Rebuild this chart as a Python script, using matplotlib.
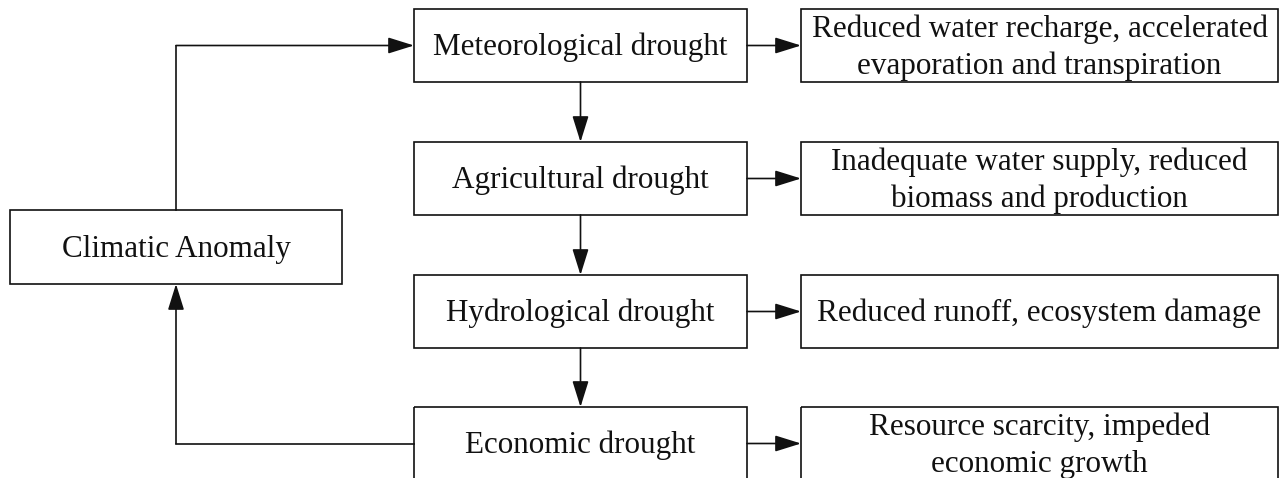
import matplotlib
matplotlib.use("Agg")
import matplotlib.pyplot as plt
from matplotlib.patches import Rectangle

plt.rcParams['font.family'] = ['Liberation Serif', 'DejaVu Serif']

source = "Climatic Anomaly"
stages = ["Meteorological drought", "Agricultural drought",
          "Hydrological drought", "Economic drought"]
impacts = ["Reduced water recharge, accelerated\nevaporation and transpiration",
           "Inadequate water supply, reduced\nbiomass and production",
           "Reduced runoff, ecosystem damage",
           "Resource scarcity, impeded\neconomic growth"]

# layout in pixels (y grows downwards)
row_top = [9, 142, 275, 407]
box_h = 73
mid_x0, mid_x1 = 414, 747
right_x0, right_x1 = 801, 1278
src_box = (10, 210, 342, 284)
loop_x = 176
ink = '#111111'
fs = 22.4

fig = plt.figure(figsize=(12.79, 4.78), dpi=100)
ax = fig.add_axes([0, 0, 1, 1])
ax.set_xlim(0, 1279)
ax.set_ylim(478, 0)
ax.axis('off')


def box(x0, y0, x1, y1, text):
    ax.add_patch(Rectangle((x0, y0), x1 - x0, y1 - y0, fill=False,
                           edgecolor=ink, lw=1.2))
    ax.text((x0 + x1) / 2, (y0 + y1) / 2 + 2, text, ha='center', va='center',
            fontsize=fs, color=ink, linespacing=1.35)


def arrow(x0, y0, x1, y1):
    ax.annotate('', xy=(x1, y1), xytext=(x0, y0),
                arrowprops=dict(arrowstyle='-|>,head_length=16,head_width=5',
                                mutation_scale=1, lw=1.2, color=ink,
                                shrinkA=0, shrinkB=0))


box(*src_box, source)
for i, (s, t) in enumerate(zip(stages, impacts)):
    y0 = row_top[i]
    box(mid_x0, y0, mid_x1, y0 + box_h, s)
    box(right_x0, y0, right_x1, y0 + box_h, t)
    yc = y0 + box_h / 2
    arrow(mid_x1, yc, right_x0, yc)
    if i < len(stages) - 1:
        xc = (mid_x0 + mid_x1) / 2
        arrow(xc, y0 + box_h, xc, row_top[i + 1])

# loop: climatic anomaly -> meteorological, economic -> climatic anomaly
y_top = row_top[0] + box_h / 2
y_bot = row_top[-1] + box_h / 2
ax.plot([loop_x, loop_x], [src_box[1], y_top], color=ink, lw=1.2)
arrow(loop_x, y_top, mid_x0, y_top)
ax.plot([mid_x0, loop_x], [y_bot, y_bot], color=ink, lw=1.2)
arrow(loop_x, y_bot, loop_x, src_box[3])

fig.savefig('out.png', dpi=100)
